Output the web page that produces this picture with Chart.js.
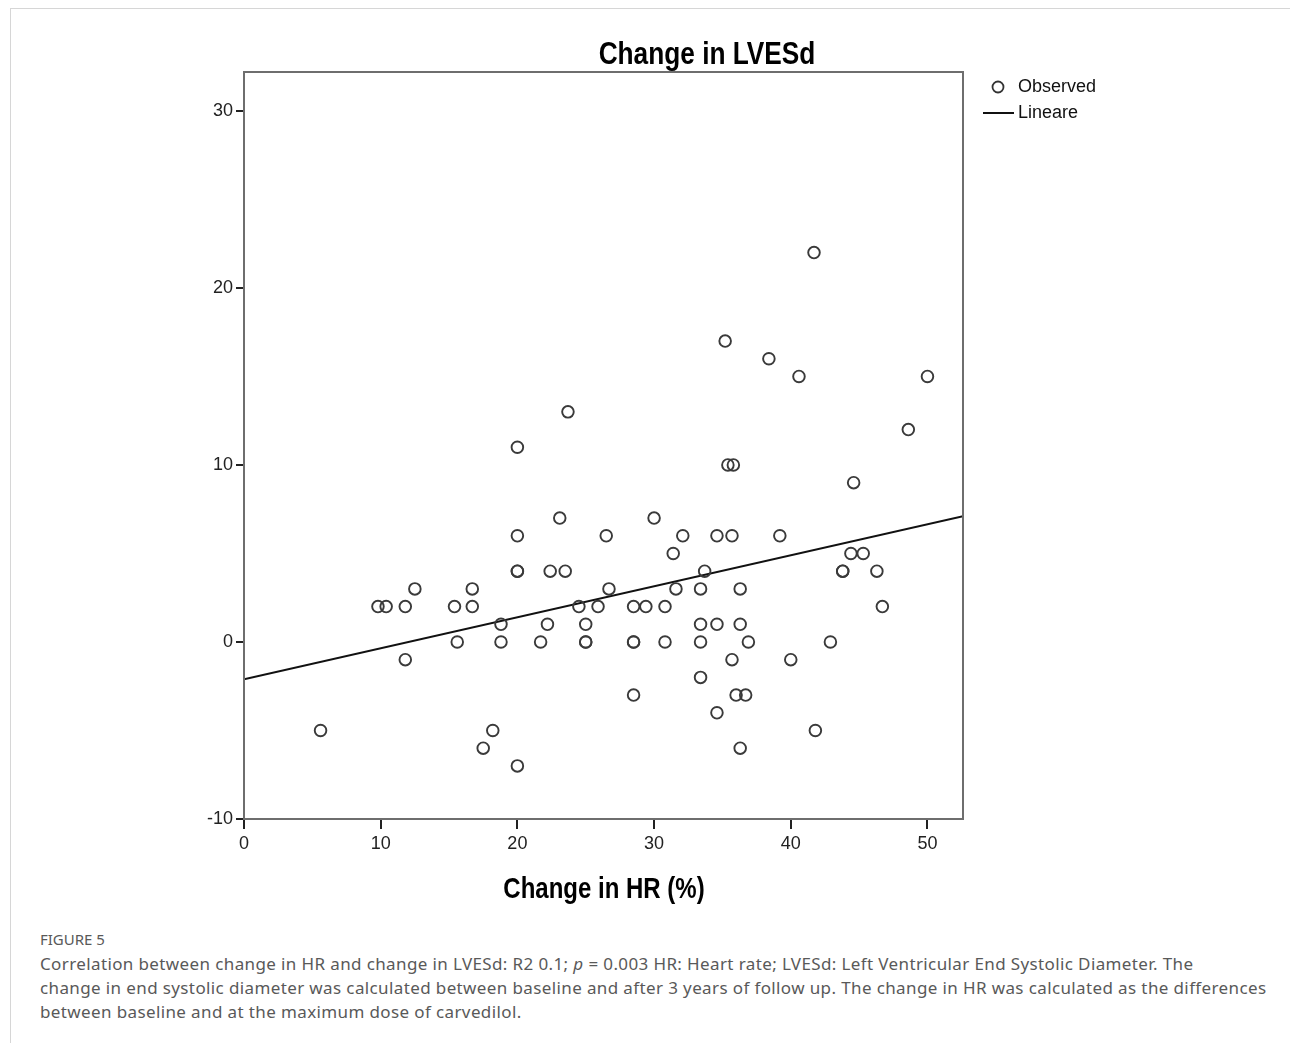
<!DOCTYPE html>
<html>
<head>
<meta charset="utf-8">
<script src="https://cdn.jsdelivr.net/npm/chart.js@4/dist/chart.umd.min.js"></script>
<style>
  html, body { margin: 0; padding: 0; background: #fff; }
  body { width: 1290px; height: 1043px; position: relative; overflow: hidden; }
  #frame { position: absolute; left: 10px; top: 8px; right: 0; bottom: 0;
           border-top: 1px solid #d6d6d6; border-left: 1px solid #d6d6d6; }
  #chart { position: absolute; left: 0; top: 0; }
  .narrow { position: absolute; text-align: center; color: #000; white-space: nowrap;
            font-family: 'Liberation Sans', Arial, sans-serif; font-weight: bold; }
  #title { left: 507px; width: 400px; top: 33px; font-size: 32px; line-height: 40px;
           transform: scaleX(0.82); }
  #xtitle { left: 404px; width: 400px; top: 870px; font-size: 30px; line-height: 36px;
            transform: scaleX(0.8); }
  #caption { position: absolute; left: 40px; top: 928px; width: 1240px; color: #595959;
             font-family: 'Noto Sans', 'Open Sans', sans-serif; }
  #caption .fig { font-size: 15px; line-height: 22px; text-transform: uppercase; margin-bottom: 2px; }
  #caption .txt { font-size: 17px; line-height: 24px; letter-spacing: 0.38px; white-space: nowrap; }
</style>
</head>
<body>
<div id="frame"></div>
<canvas id="chart" width="1290" height="920"></canvas>
<div id="title" class="narrow">Change in LVESd</div>
<div id="xtitle" class="narrow">Change in HR (%)</div>
<div id="caption">
  <div class="fig">FIGURE 5</div>
  <div class="txt">Correlation between change in HR and change in LVESd: R2 0.1; <i>p</i> = 0.003 HR: Heart rate; LVESd: Left Ventricular End Systolic Diameter. The<br>change in end systolic diameter was calculated between baseline and after 3 years of follow up. The change in HR was calculated as the differences<br>between baseline and at the maximum dose of carvedilol.</div>
</div>
<script>
// Change in HR (%) vs change in LVESd, one entry per patient
const hrChange = [5.6, 9.8, 10.4, 11.8, 11.8, 12.5, 15.4, 15.6, 16.7, 16.7, 18.8, 18.8, 18.2, 17.5,
  20, 20, 20, 20, 20, 21.7, 22.2, 22.4, 23.1, 23.5, 23.7, 24.5, 25, 25, 25, 25.9, 26.5, 26.7,
  28.5, 28.5, 28.5, 28.5, 29.4, 30, 30.8, 30.8, 31.4, 31.6, 32.1, 33.4, 33.4, 33.4, 33.4, 33.7,
  34.6, 34.6, 34.6, 35.2, 35.4, 35.8, 35.7, 35.7, 36, 36.3, 36.3, 36.3, 36.7, 36.9, 38.4, 39.2,
  40, 40.6, 41.7, 41.8, 42.9, 43.8, 43.8, 44.4, 44.6, 45.3, 46.3, 46.7, 48.6, 50];
const lvesdChange = [-5, 2, 2, 2, -1, 3, 2, 0, 3, 2, 1, 0, -5, -6,
  -7, 11, 6, 4, 4, 0, 1, 4, 7, 4, 13, 2, 1, 0, 0, 2, 6, 3,
  2, 0, 0, -3, 2, 7, 2, 0, 5, 3, 6, 3, 1, 0, -2, 4,
  6, 1, -4, 17, 10, 10, 6, -1, -3, 3, 1, -6, -3, 0, 16, 6,
  -1, 15, 22, -5, 0, 4, 4, 5, 9, 5, 4, 2, 12, 15];

// linear fit, end points read at the plot edges
const fitX = [0, 52.6];
const fitY = [-2.1, 7.1];

const xTicks = [0, 10, 20, 30, 40, 50];
const yTicks = [-10, 0, 10, 20, 30];
const xRange = [0, 52.6];
const yRange = [-10, 32.2];

const tickFont = { family: "'Liberation Sans', Arial, sans-serif", size: 18 };

// box round the plot and the legend on its right
const framePlugin = {
  id: 'frame',
  afterDatasetsDraw(chart) {
    const { ctx, chartArea: a } = chart;
    ctx.save();
    ctx.strokeStyle = '#6e6e6e';
    ctx.lineWidth = 2;
    ctx.strokeRect(a.left, a.top, a.right - a.left, a.bottom - a.top);
    ctx.restore();
  },
  afterDraw(chart) {
    const { ctx, chartArea: a } = chart;
    const sets = chart.data.datasets;
    ctx.save();
    ctx.font = "18px 'Liberation Sans', Arial, sans-serif";
    ctx.fillStyle = '#111';
    ctx.textBaseline = 'middle';
    // Observed
    ctx.beginPath();
    ctx.arc(a.right + 35, a.top + 15, 5.5, 0, Math.PI * 2);
    ctx.strokeStyle = '#333';
    ctx.lineWidth = 1.8;
    ctx.stroke();
    ctx.fillText(sets[0].label, a.right + 55, a.top + 15);
    // Lineare
    ctx.beginPath();
    ctx.moveTo(a.right + 20, a.top + 41);
    ctx.lineTo(a.right + 51, a.top + 41);
    ctx.strokeStyle = '#111';
    ctx.lineWidth = 2;
    ctx.stroke();
    ctx.fillText(sets[1].label, a.right + 55, a.top + 41);
    ctx.restore();
  }
};

new Chart(document.getElementById('chart'), {
  type: 'scatter',
  data: {
    datasets: [
      {
        label: 'Observed',
        data: hrChange.map((x, i) => ({ x: x, y: lvesdChange[i] })),
        pointRadius: 5.8,
        pointHoverRadius: 5.8,
        borderWidth: 1.9,
        borderColor: '#3a3a3a',
        backgroundColor: 'rgba(0,0,0,0)',
      },
      {
        label: 'Lineare',
        data: fitX.map((x, i) => ({ x: x, y: fitY[i] })),
        showLine: true,
        pointRadius: 0,
        borderColor: '#111',
        borderWidth: 2,
      },
    ],
  },
  options: {
    responsive: false,
    devicePixelRatio: 1,
    animation: false,
    layout: { padding: { left: 184, right: 327, top: 72, bottom: 19 } },
    plugins: {
      legend: { display: false },
      title: { display: false },
      tooltip: { enabled: false },
    },
    scales: {
      x: {
        type: 'linear',
        min: xRange[0],
        max: xRange[1],
        afterBuildTicks: (s) => { s.ticks = xTicks.map((v) => ({ value: v })); },
        afterFit: (s) => { s.height = 82; s.paddingLeft = 0; s.paddingRight = 0; },
        grid: { drawOnChartArea: false, drawTicks: true, tickLength: 10, tickColor: '#222', lineWidth: 2 },
        border: { display: false },
        ticks: { font: tickFont, color: '#222', padding: 4, maxRotation: 0 },
      },
      y: {
        type: 'linear',
        min: yRange[0],
        max: yRange[1],
        afterBuildTicks: (s) => { s.ticks = yTicks.map((v) => ({ value: v })); },
        afterFit: (s) => { s.width = 60; s.paddingTop = 0; s.paddingBottom = 0; },
        grid: { drawOnChartArea: false, drawTicks: true, tickLength: 8, tickColor: '#222', lineWidth: 2 },
        border: { display: false },
        ticks: { font: tickFont, color: '#222', padding: 3 },
      },
    },
  },
  plugins: [framePlugin],
});
</script>
</body>
</html>
